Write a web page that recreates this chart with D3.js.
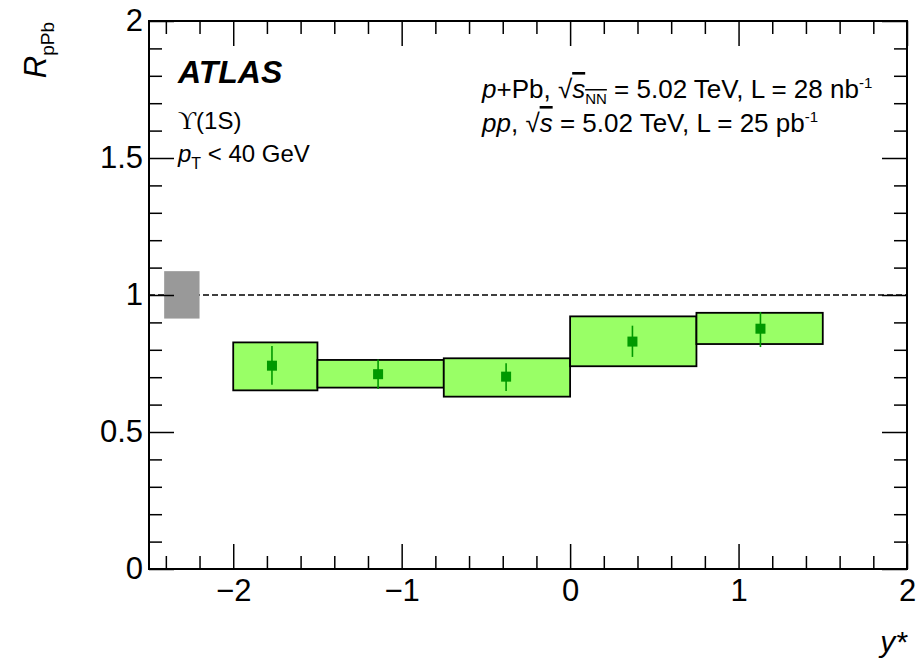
<!DOCTYPE html>
<html>
<head>
<meta charset="utf-8">
<script src="https://cdn.jsdelivr.net/npm/d3@7"></script>
<style>
  body { margin: 0; background: #fff; }
  svg { display: block; font-family: "Liberation Sans", Arial, sans-serif; }
</style>
</head>
<body>
<div id="chart"></div>
<script>
// bin edges in y*, points, stat errors and systematic boxes
var binLow  = [-2.0, -1.5, -0.75, 0.0, 0.75];
var binHigh = [-1.5, -0.75, 0.0, 0.75, 1.5];
var pointX  = [-1.77, -1.14, -0.38, 0.37, 1.13];
var rpPb    = [0.742, 0.711, 0.702, 0.830, 0.877];
var statLo  = [0.672, 0.657, 0.650, 0.774, 0.810];
var statHi  = [0.814, 0.765, 0.751, 0.888, 0.938];
var systLo  = [0.652, 0.662, 0.629, 0.740, 0.821];
var systHi  = [0.827, 0.763, 0.769, 0.922, 0.935];
// global normalisation uncertainty box
var globX   = [-2.41, -2.20];
var globY   = [0.914, 1.087];

var xMajor = [-2, -1, 0, 1, 2];
var yMajor = [0, 0.5, 1, 1.5, 2];
var yLabels = ["0", "0.5", "1", "1.5", "2"];

var W = 919, H = 661;
var margin = {left: 149, right: 12, top: 21, bottom: 92};

var svg = d3.select("#chart").append("svg")
    .attr("width", W).attr("height", H);

var x = d3.scaleLinear().domain([-2.5, 2]).range([margin.left, W - margin.right]);
var y = d3.scaleLinear().domain([0, 2]).range([H - margin.bottom, margin.top]);

var idx = d3.range(binLow.length);

// reference line at 1
svg.append("line")
    .attr("x1", x(-2.5)).attr("x2", x(2))
    .attr("y1", y(1)).attr("y2", y(1))
    .attr("stroke", "#000").attr("stroke-width", 1.5)
    .attr("stroke-dasharray", "6,3");

// global uncertainty
svg.append("rect")
    .attr("x", x(globX[0])).attr("width", x(globX[1]) - x(globX[0]))
    .attr("y", y(globY[1])).attr("height", y(globY[0]) - y(globY[1]))
    .attr("fill", "#999999");

// systematic boxes
svg.selectAll("rect.syst").data(idx).enter().append("rect")
    .attr("class", "syst")
    .attr("x", function (i) { return x(binLow[i]); })
    .attr("width", function (i) { return x(binHigh[i]) - x(binLow[i]); })
    .attr("y", function (i) { return y(systHi[i]); })
    .attr("height", function (i) { return y(systLo[i]) - y(systHi[i]); })
    .attr("fill", "#99ff66").attr("stroke", "#000").attr("stroke-width", 1.8);

// stat errors
svg.selectAll("line.stat").data(idx).enter().append("line")
    .attr("class", "stat")
    .attr("x1", function (i) { return x(pointX[i]); })
    .attr("x2", function (i) { return x(pointX[i]); })
    .attr("y1", function (i) { return y(statLo[i]); })
    .attr("y2", function (i) { return y(statHi[i]); })
    .attr("stroke", "#009900").attr("stroke-width", 1.6);

// markers
var ms = 10;
svg.selectAll("rect.pt").data(idx).enter().append("rect")
    .attr("class", "pt")
    .attr("x", function (i) { return x(pointX[i]) - ms / 2; })
    .attr("y", function (i) { return y(rpPb[i]) - ms / 2; })
    .attr("width", ms).attr("height", ms)
    .attr("fill", "#009900");

// frame
svg.append("rect")
    .attr("x", x(-2.5)).attr("y", y(2))
    .attr("width", x(2) - x(-2.5)).attr("height", y(0) - y(2))
    .attr("fill", "none").attr("stroke", "#000").attr("stroke-width", 2);

// axes
var xMinor = d3.range(-24, 21, 2).map(function (v) { return v / 10; })
    .filter(function (v) { return xMajor.indexOf(v) < 0; });
var yMinor = d3.range(0, 21).map(function (v) { return v / 10; })
    .filter(function (v) { return yMajor.indexOf(v) < 0; });

function styleAxis(g) {
    g.select(".domain").remove();
    g.selectAll("line").attr("stroke", "#000").attr("stroke-width", 1.5);
    g.selectAll("text").attr("font-size", 31).attr("fill", "#000");
}

// bottom
svg.append("g").attr("transform", "translate(0," + y(0) + ")")
    .call(d3.axisBottom(x).tickValues(xMajor).tickSize(-25).tickPadding(10)
        .tickFormat(function (d) { return d < 0 ? "\u2212" + (-d) : d; }))
    .call(styleAxis);
svg.append("g").attr("transform", "translate(0," + y(0) + ")")
    .call(d3.axisBottom(x).tickValues(xMinor).tickSize(-13).tickFormat(""))
    .call(styleAxis);
// top
svg.append("g").attr("transform", "translate(0," + y(2) + ")")
    .call(d3.axisTop(x).tickValues(xMajor).tickSize(-25).tickFormat(""))
    .call(styleAxis);
svg.append("g").attr("transform", "translate(0," + y(2) + ")")
    .call(d3.axisTop(x).tickValues(xMinor).tickSize(-13).tickFormat(""))
    .call(styleAxis);
// left
svg.append("g").attr("transform", "translate(" + x(-2.5) + ",0)")
    .call(d3.axisLeft(y).tickValues(yMajor).tickSize(-25).tickPadding(6)
        .tickFormat(function (d, i) { return yLabels[i]; }))
    .call(styleAxis);
svg.append("g").attr("transform", "translate(" + x(-2.5) + ",0)")
    .call(d3.axisLeft(y).tickValues(yMinor).tickSize(-13).tickFormat(""))
    .call(styleAxis);
// right
svg.append("g").attr("transform", "translate(" + x(2) + ",0)")
    .call(d3.axisRight(y).tickValues(yMajor).tickSize(-25).tickFormat(""))
    .call(styleAxis);
svg.append("g").attr("transform", "translate(" + x(2) + ",0)")
    .call(d3.axisRight(y).tickValues(yMinor).tickSize(-13).tickFormat(""))
    .call(styleAxis);

// axis titles
var yt = svg.append("text")
    .attr("transform", "translate(46,22) rotate(-90)")
    .attr("text-anchor", "end").attr("font-size", 31).attr("font-style", "italic");
yt.append("tspan").text("R");
yt.append("tspan").attr("font-size", 19).attr("font-style", "normal").attr("dy", 8).text("pPb");

svg.append("text")
    .attr("x", 907).attr("y", 652)
    .attr("text-anchor", "end").attr("font-size", 30).attr("font-style", "italic")
    .text("y*");

// labels
svg.append("text").attr("x", 178).attr("y", 83)
    .attr("font-size", 32).attr("font-weight", "bold").attr("font-style", "italic")
    .text("ATLAS");

var ups = svg.append("text").attr("x", 178).attr("y", 129).attr("font-size", 24);
ups.append("tspan").attr("font-family", "'Liberation Serif', serif").attr("font-size", 25).text("\u03D2");
ups.append("tspan").text("(1S)");

var pt = svg.append("text").attr("x", 178).attr("y", 162).attr("font-size", 24);
pt.append("tspan").attr("font-style", "italic").text("p");
pt.append("tspan").attr("font-size", 16).attr("dy", 7).text("T");
pt.append("tspan").attr("dy", -7).text(" < 40 GeV");

// collision system lines
var l1 = svg.append("text").attr("x", 482).attr("y", 98).attr("font-size", 26);
l1.append("tspan").attr("font-style", "italic").text("p");
l1.append("tspan").text("+Pb, ");
l1.append("tspan").text("\u221A");
l1.append("tspan").attr("font-style", "italic").attr("text-decoration", "overline").text("s");
l1.append("tspan").attr("font-size", 15).attr("dy", 6).attr("text-decoration", "overline").text("NN");
l1.append("tspan").attr("dy", -6).text(" = 5.02 TeV, L = 28 nb");
l1.append("tspan").attr("font-size", 15).attr("dy", -10).text("-1");

var l2 = svg.append("text").attr("x", 482).attr("y", 132).attr("font-size", 26);
l2.append("tspan").attr("font-style", "italic").text("pp");
l2.append("tspan").text(", ");
l2.append("tspan").text("\u221A");
l2.append("tspan").attr("font-style", "italic").attr("text-decoration", "overline").text("s");
l2.append("tspan").text(" = 5.02 TeV, L = 25 pb");
l2.append("tspan").attr("font-size", 15).attr("dy", -10).text("-1");
</script>
</body>
</html>
